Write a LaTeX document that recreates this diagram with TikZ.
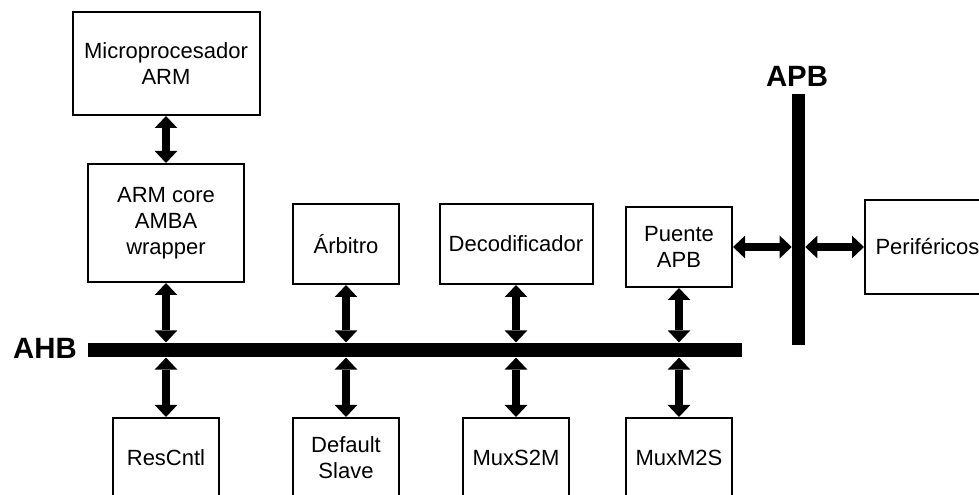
\documentclass[tikz,border=0pt]{standalone}
\usepackage{fontspec}
\setmainfont{Liberation Sans}
\usetikzlibrary{arrows.meta}
\tikzset{
  blk/.style={draw, line width=1.5pt, align=center, inner sep=0pt, font=\fontsize{16.5}{19.5}\selectfont},
  blksmall/.style={blk, minimum width=79.5pt, minimum height=60pt},
  bus/.style={fill=black, inner sep=0pt},
  buslabel/.style={font=\fontsize{22}{26}\selectfont\bfseries},
  link/.style={line width=6.5pt, >={Triangle[width=17pt,length=9pt,line width=0pt]}, <->},
}

\begin{document}
\begin{tikzpicture}[x=0.75pt,y=-0.75pt]
\useasboundingbox (0,0) rectangle (979,495);
% buses
\node[bus, minimum width=490.5pt, minimum height=11pt] (ahb) at (415,350) {};
\node[bus, minimum width=9.75pt, minimum height=188.25pt] (apb) at (798.5,219.5) {};
\node[buslabel] (ahblabel) at (45,348) {AHB};
\node[buslabel] (apblabel) at (797,76) {APB};
% blocks
\node[blk, minimum width=140.25pt, minimum height=77.25pt] (arm) at (166,63.5) {Microprocesador\\ARM};
\node[blk, minimum width=117pt, minimum height=88.5pt] (core) at (166,223) {ARM core\\AMBA\\wrapper};
\node[blksmall] (arb) at (346,244) {Árbitro};
\node[blk, minimum width=114.75pt, minimum height=60pt] (dec) at (516,244) {Decodificador};
\node[blksmall] (bridge) at (679,247) {Puente\\APB};
\node[blk, minimum width=93.75pt, minimum height=70.5pt] (peri) at (927.5,247) {Periféricos};
\node[blksmall] (rescntl) at (166,458) {ResCntl};
\node[blksmall] (slave) at (346,458) {Default\\Slave};
\node[blksmall] (s2m) at (516,458) {MuxS2M};
\node[blksmall] (m2s) at (679,458) {MuxM2S};
% links
\draw[link] (arm.south) -- (core.north);
\foreach \up/\down in {core/rescntl, arb/slave, dec/s2m, bridge/m2s} {
  \draw[link] (\up.south) -- (\up.south |- ahb.north);
  \draw[link] (\down.north |- ahb.south) -- (\down.north);
}
\draw[link] (bridge.east) -- (bridge.east -| apb.west);
\draw[link] (apb.east |- peri.west) -- (peri.west);
\end{tikzpicture}
\end{document}
